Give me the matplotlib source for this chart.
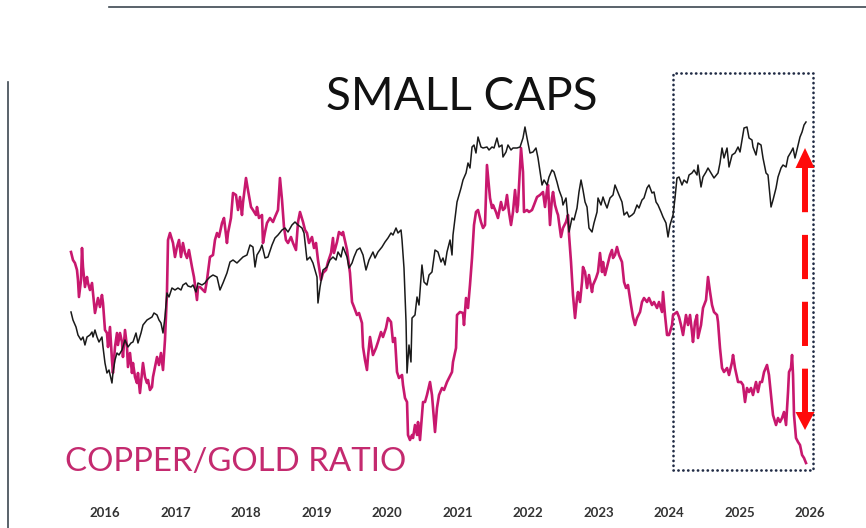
"""Small caps vs copper/gold ratio"""
import matplotlib
matplotlib.use("Agg")
import matplotlib.pyplot as plt
from matplotlib.patches import Rectangle
from matplotlib.lines import Line2D

# small caps index (relative level)
sc_years = [2015.518, 2015.546, 2015.589, 2015.617, 2015.660, 2015.688, 2015.716, 2015.745, 2015.787, 2015.816,
            2015.830, 2015.858, 2015.887, 2015.915, 2015.957, 2015.972, 2016.000, 2016.028, 2016.057, 2016.099,
            2016.113, 2016.142, 2016.170, 2016.199, 2016.241, 2016.284, 2016.326, 2016.369, 2016.397, 2016.440,
            2016.468, 2016.511, 2016.539, 2016.596, 2016.667, 2016.695, 2016.738, 2016.766, 2016.794, 2016.823,
            2016.851, 2016.879, 2016.908, 2016.950, 2016.993, 2017.035, 2017.078, 2017.106, 2017.149, 2017.177,
            2017.220, 2017.248, 2017.291, 2017.319, 2017.376, 2017.418, 2017.447, 2017.489, 2017.532, 2017.589,
            2017.631, 2017.674, 2017.730, 2017.773, 2017.816, 2017.872, 2017.915, 2017.957, 2018.014, 2018.057,
            2018.099, 2018.128, 2018.156, 2018.199, 2018.227, 2018.270, 2018.312, 2018.369, 2018.411, 2018.454,
            2018.511, 2018.553, 2018.596, 2018.652, 2018.695, 2018.738, 2018.794, 2018.823, 2018.865, 2018.908,
            2018.950, 2019.007, 2019.021, 2019.050, 2019.092, 2019.149, 2019.191, 2019.234, 2019.277, 2019.305,
            2019.348, 2019.376, 2019.433, 2019.461, 2019.504, 2019.532, 2019.574, 2019.617, 2019.660, 2019.702,
            2019.745, 2019.801, 2019.830, 2019.872, 2019.929, 2019.972, 2020.014, 2020.057, 2020.085, 2020.128,
            2020.156, 2020.199, 2020.213, 2020.241, 2020.270, 2020.284, 2020.312, 2020.340, 2020.355, 2020.397,
            2020.426, 2020.454, 2020.496, 2020.525, 2020.567, 2020.596, 2020.638, 2020.681, 2020.723, 2020.766,
            2020.794, 2020.823, 2020.851, 2020.894, 2020.922, 2020.936, 2020.993, 2021.050, 2021.078, 2021.121,
            2021.149, 2021.177, 2021.206, 2021.234, 2021.262, 2021.291, 2021.333, 2021.362, 2021.418, 2021.447,
            2021.489, 2021.518, 2021.560, 2021.589, 2021.631, 2021.645, 2021.688, 2021.716, 2021.759, 2021.787,
            2021.844, 2021.887, 2021.929, 2021.957, 2021.986, 2022.028, 2022.071, 2022.113, 2022.142, 2022.199,
            2022.227, 2022.270, 2022.298, 2022.340, 2022.369, 2022.411, 2022.440, 2022.482, 2022.496, 2022.539,
            2022.553, 2022.582, 2022.624, 2022.652, 2022.695, 2022.723, 2022.752, 2022.780, 2022.809, 2022.837,
            2022.865, 2022.908, 2022.936, 2022.979, 2022.993, 2023.035, 2023.064, 2023.092, 2023.121, 2023.163,
            2023.206, 2023.234, 2023.262, 2023.291, 2023.333, 2023.362, 2023.404, 2023.433, 2023.475, 2023.504,
            2023.546, 2023.574, 2023.617, 2023.645, 2023.688, 2023.716, 2023.759, 2023.787, 2023.816, 2023.844,
            2023.887, 2023.915, 2023.957, 2023.986, 2024.014, 2024.057, 2024.085, 2024.113, 2024.142, 2024.184,
            2024.213, 2024.255, 2024.284, 2024.326, 2024.355, 2024.397, 2024.411, 2024.454, 2024.482, 2024.525,
            2024.553, 2024.596, 2024.638, 2024.695, 2024.723, 2024.752, 2024.780, 2024.823, 2024.851, 2024.894,
            2024.936, 2024.979, 2025.007, 2025.035, 2025.064, 2025.106, 2025.135, 2025.177, 2025.191, 2025.234,
            2025.262, 2025.305, 2025.333, 2025.376, 2025.404, 2025.447, 2025.475, 2025.518, 2025.546, 2025.589,
            2025.617, 2025.660, 2025.688, 2025.730, 2025.759, 2025.787, 2025.830, 2025.858, 2025.887, 2025.915,
            2025.943]
sc_values = [188, 180, 173, 165, 160, 163, 155, 163, 165, 168,
             163, 170, 163, 158, 163, 153, 137, 127, 130, 117,
             127, 140, 147, 145, 150, 160, 153, 157, 158, 167,
             157, 167, 175, 180, 183, 187, 185, 180, 177, 167,
             183, 207, 203, 212, 210, 212, 210, 215, 217, 214,
             213, 215, 208, 217, 215, 217, 220, 223, 225, 223,
             210, 217, 227, 238, 240, 237, 240, 243, 245, 255,
             253, 233, 245, 250, 255, 242, 243, 255, 262, 265,
             270, 272, 268, 275, 278, 275, 272, 267, 240, 243,
             237, 223, 197, 213, 230, 233, 240, 243, 240, 248,
             243, 253, 243, 232, 237, 243, 250, 252, 245, 230,
             240, 248, 242, 248, 253, 258, 262, 267, 265, 272,
             267, 270, 260, 232, 178, 127, 155, 138, 182, 185,
             203, 195, 235, 218, 215, 225, 228, 250, 248, 238,
             242, 235, 248, 260, 245, 265, 298, 312, 320, 327,
             337, 332, 353, 355, 347, 363, 353, 352, 353, 350,
             353, 352, 362, 353, 355, 343, 348, 355, 350, 352,
             352, 353, 362, 373, 362, 347, 348, 352, 342, 315,
             320, 315, 323, 330, 328, 318, 310, 302, 295, 302,
             292, 268, 282, 280, 292, 308, 320, 310, 298, 293,
             272, 268, 277, 288, 302, 295, 303, 297, 292, 302,
             305, 315, 310, 305, 298, 285, 288, 283, 285, 287,
             295, 292, 300, 302, 312, 315, 307, 308, 298, 295,
             288, 283, 277, 263, 275, 285, 302, 322, 323, 315,
             320, 317, 325, 327, 330, 325, 335, 313, 323, 328,
             332, 327, 322, 327, 337, 352, 342, 352, 333, 345,
             347, 353, 348, 360, 372, 373, 362, 360, 353, 345,
             357, 355, 342, 327, 325, 293, 300, 312, 323, 332,
             335, 333, 343, 348, 352, 342, 355, 363, 368, 375,
             378]

# copper/gold ratio (relative level)
cg_years = [2015.518, 2015.546, 2015.574, 2015.603, 2015.617, 2015.631, 2015.660, 2015.674, 2015.688, 2015.716,
            2015.745, 2015.759, 2015.787, 2015.816, 2015.830, 2015.858, 2015.887, 2015.901, 2015.929, 2015.957,
            2015.972, 2016.000, 2016.028, 2016.043, 2016.071, 2016.099, 2016.113, 2016.142, 2016.170, 2016.184,
            2016.213, 2016.241, 2016.255, 2016.284, 2016.312, 2016.326, 2016.355, 2016.383, 2016.397, 2016.426,
            2016.454, 2016.468, 2016.496, 2016.525, 2016.539, 2016.567, 2016.596, 2016.610, 2016.638, 2016.667,
            2016.681, 2016.709, 2016.738, 2016.766, 2016.794, 2016.823, 2016.851, 2016.879, 2016.894, 2016.922,
            2016.965, 2016.993, 2017.021, 2017.050, 2017.078, 2017.106, 2017.135, 2017.163, 2017.191, 2017.234,
            2017.262, 2017.305, 2017.319, 2017.348, 2017.390, 2017.418, 2017.447, 2017.489, 2017.532, 2017.560,
            2017.589, 2017.617, 2017.660, 2017.688, 2017.730, 2017.745, 2017.787, 2017.816, 2017.858, 2017.887,
            2017.915, 2017.943, 2017.957, 2018.000, 2018.028, 2018.071, 2018.099, 2018.142, 2018.156, 2018.184,
            2018.227, 2018.241, 2018.270, 2018.298, 2018.340, 2018.383, 2018.411, 2018.454, 2018.482, 2018.511,
            2018.539, 2018.567, 2018.596, 2018.638, 2018.667, 2018.709, 2018.738, 2018.766, 2018.809, 2018.837,
            2018.865, 2018.894, 2018.936, 2018.965, 2018.993, 2019.021, 2019.064, 2019.092, 2019.135, 2019.163,
            2019.206, 2019.234, 2019.248, 2019.291, 2019.319, 2019.362, 2019.376, 2019.433, 2019.475, 2019.504,
            2019.532, 2019.574, 2019.603, 2019.645, 2019.660, 2019.688, 2019.716, 2019.730, 2019.759, 2019.801,
            2019.844, 2019.872, 2019.915, 2019.943, 2019.986, 2020.014, 2020.057, 2020.085, 2020.113, 2020.142,
            2020.170, 2020.213, 2020.227, 2020.255, 2020.284, 2020.298, 2020.326, 2020.355, 2020.369, 2020.397,
            2020.426, 2020.440, 2020.468, 2020.511, 2020.539, 2020.567, 2020.610, 2020.638, 2020.681, 2020.709,
            2020.738, 2020.780, 2020.809, 2020.851, 2020.879, 2020.922, 2020.936, 2020.979, 2020.993, 2021.035,
            2021.078, 2021.092, 2021.121, 2021.149, 2021.177, 2021.206, 2021.234, 2021.262, 2021.291, 2021.333,
            2021.362, 2021.390, 2021.418, 2021.461, 2021.489, 2021.504, 2021.546, 2021.574, 2021.617, 2021.645,
            2021.674, 2021.702, 2021.730, 2021.759, 2021.787, 2021.816, 2021.844, 2021.858, 2021.901, 2021.929,
            2021.943, 2021.986, 2022.014, 2022.057, 2022.085, 2022.128, 2022.170, 2022.213, 2022.241, 2022.270,
            2022.284, 2022.312, 2022.340, 2022.355, 2022.383, 2022.411, 2022.426, 2022.468, 2022.496, 2022.539,
            2022.567, 2022.582, 2022.610, 2022.638, 2022.667, 2022.695, 2022.709, 2022.738, 2022.766, 2022.780,
            2022.809, 2022.837, 2022.865, 2022.908, 2022.922, 2022.965, 2022.993, 2023.021, 2023.050, 2023.064,
            2023.092, 2023.121, 2023.163, 2023.191, 2023.206, 2023.234, 2023.262, 2023.291, 2023.333, 2023.362,
            2023.390, 2023.418, 2023.461, 2023.489, 2023.518, 2023.546, 2023.589, 2023.617, 2023.645, 2023.688,
            2023.716, 2023.759, 2023.787, 2023.830, 2023.858, 2023.901, 2023.915, 2023.943, 2023.972, 2024.000,
            2024.043, 2024.057, 2024.113, 2024.142, 2024.170, 2024.199, 2024.241, 2024.270, 2024.298, 2024.326,
            2024.340, 2024.369, 2024.397, 2024.411, 2024.454, 2024.482, 2024.525, 2024.553, 2024.582, 2024.610,
            2024.638, 2024.681, 2024.695, 2024.723, 2024.752, 2024.780, 2024.823, 2024.851, 2024.894, 2024.908,
            2024.936, 2024.979, 2025.021, 2025.050, 2025.078, 2025.106, 2025.135, 2025.163, 2025.191, 2025.234,
            2025.262, 2025.291, 2025.319, 2025.348, 2025.390, 2025.418, 2025.447, 2025.475, 2025.518, 2025.546,
            2025.574, 2025.603, 2025.631, 2025.660, 2025.688, 2025.702, 2025.730, 2025.745, 2025.759, 2025.773,
            2025.801, 2025.830, 2025.858, 2025.887, 2025.915, 2025.943]
cg_values = [248, 240, 237, 230, 220, 203, 220, 252, 233, 213,
             223, 217, 210, 217, 207, 187, 197, 202, 193, 205,
             197, 170, 167, 153, 173, 140, 127, 153, 167, 155,
             167, 158, 143, 170, 153, 133, 147, 127, 137, 123,
             117, 127, 107, 127, 137, 123, 117, 120, 110, 113,
             123, 133, 143, 135, 147, 130, 160, 207, 260, 267,
             257, 243, 253, 260, 243, 257, 247, 242, 250, 233,
             223, 200, 213, 213, 210, 208, 220, 243, 245, 260,
             267, 263, 277, 282, 257, 267, 282, 307, 305, 290,
             303, 285, 297, 322, 310, 293, 290, 285, 293, 282,
             285, 257, 268, 277, 282, 278, 283, 290, 322, 300,
             273, 260, 257, 263, 257, 250, 278, 288, 278, 270,
             267, 257, 263, 252, 257, 240, 220, 227, 230, 238,
             247, 262, 247, 258, 268, 265, 268, 250, 227, 198,
             193, 185, 187, 177, 153, 140, 130, 143, 163, 145,
             152, 158, 168, 163, 172, 182, 178, 158, 162, 128,
             122, 125, 115, 102, 98, 65, 60, 65, 62, 75,
             65, 78, 60, 98, 98, 105, 118, 105, 68, 92,
             105, 112, 110, 118, 122, 128, 138, 152, 185, 188,
             187, 175, 202, 192, 215, 242, 275, 288, 290, 278,
             272, 275, 335, 302, 292, 295, 288, 282, 298, 290,
             292, 305, 288, 275, 288, 310, 288, 295, 352, 328,
             288, 290, 288, 290, 295, 303, 305, 308, 293, 310,
             315, 275, 302, 308, 295, 288, 285, 263, 272, 278,
             285, 265, 238, 205, 182, 202, 208, 198, 218, 233,
             228, 212, 225, 208, 215, 222, 228, 247, 228, 238,
             225, 233, 245, 250, 242, 245, 253, 245, 238, 218,
             212, 215, 195, 183, 175, 182, 188, 198, 202, 198,
             202, 195, 198, 192, 198, 188, 208, 185, 165, 165,
             175, 185, 188, 183, 175, 165, 185, 175, 185, 168,
             158, 178, 185, 162, 175, 192, 200, 223, 208, 195,
             188, 185, 178, 152, 132, 128, 132, 125, 138, 145,
             132, 118, 118, 115, 98, 112, 108, 112, 105, 118,
             108, 118, 118, 128, 135, 125, 105, 85, 75, 82,
             78, 82, 88, 75, 108, 128, 132, 145, 125, 85,
             62, 58, 55, 45, 42, 37]

tick_years = list(range(2016, 2027))

# highlighted window and the divergence arrow
box_start, box_end = 2024.057, 2026.043
box_low, box_high = 30, 427
arrow_x = 2025.929
arrow_top, arrow_bottom = 352, 70

black_col = "#1a1a1a"
pink_col = "#c8186e"
red_col = "#ff0a0a"

fig = plt.figure(figsize=(8.66, 5.28), dpi=100)
ax = fig.add_axes([0, 28 / 528, 1, 500 / 528])
ax.set_xlim(2014.511, 2026.794)
ax.set_ylim(0, 500)

ax.plot(cg_years, cg_values, color=pink_col, lw=1.9, solid_joinstyle="round")
ax.plot(sc_years, sc_values, color=black_col, lw=1.1, solid_joinstyle="round")

# dotted box round the last two years
box = Rectangle((box_start, box_low), box_end - box_start, box_high - box_low,
                fill=False, edgecolor="#1f2a44", lw=1.9, linestyle=(0, (0.1, 1.75)))
box.set_capstyle("round")
ax.add_patch(box)

# red dashed double-headed arrow
head_len = 20
head_half = 0.135
ax.plot([arrow_x, arrow_x], [arrow_top - head_len, arrow_bottom + 18],
        color=red_col, lw=4.3, linestyle=(0, (7.4, 3.8)), solid_capstyle="butt",
        dash_capstyle="butt")
ax.fill([arrow_x - head_half, arrow_x + head_half, arrow_x],
        [arrow_top - head_len, arrow_top - head_len, arrow_top], color=red_col, lw=0)
ax.fill([arrow_x - head_half, arrow_x + head_half, arrow_x],
        [arrow_bottom + 18, arrow_bottom + 18, arrow_bottom], color=red_col, lw=0)

ax.text(2021.064, 403, "SMALL CAPS", fontsize=33, family="Lato",
        color="#111111", ha="center", va="center")
ax.text(2015.433, 38, "COPPER/GOLD RATIO", fontsize=23.8, family="Lato",
        color="#c42a6f", ha="left", va="center")

ax.set_xticks(tick_years)
ax.set_xticklabels([str(y) for y in tick_years], fontsize=9.5, family="Lato",
                   fontweight="bold", color="#333333")
ax.tick_params(axis="x", length=0, pad=5)
ax.set_yticks([])
for s in ax.spines.values():
    s.set_visible(False)

# thin frame lines along the top and the left edge
fig.add_artist(Line2D([109 / 866, 1], [1 - 7 / 528, 1 - 7 / 528], color="#3d4852", lw=1.2))
fig.add_artist(Line2D([8 / 866, 8 / 866], [0, 1 - 82 / 528], color="#3d4852", lw=1.2))

plt.savefig("out.png", dpi=100)
